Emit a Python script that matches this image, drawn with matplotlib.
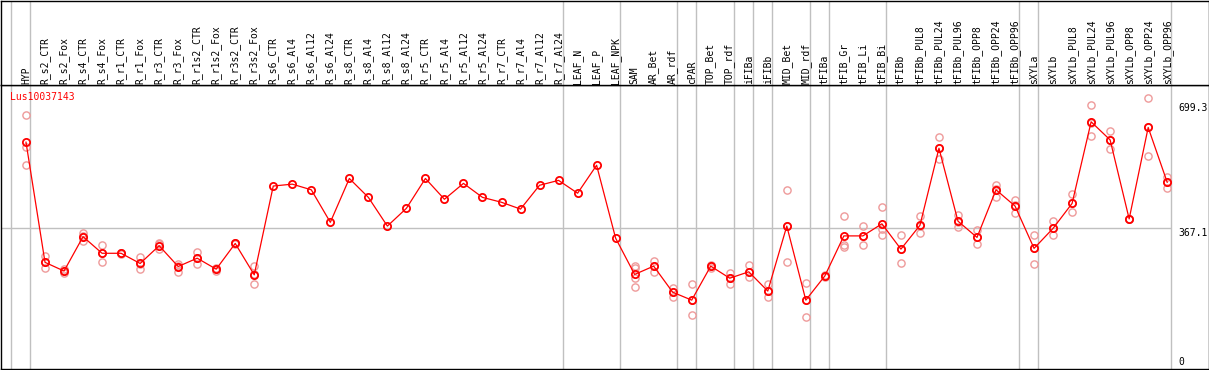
import matplotlib
matplotlib.use("Agg")
import matplotlib.pyplot as plt

title = "Lus10037143"
categories = ["HYP", "R_s2_CTR", "R_s2_Fox", "R_s4_CTR", "R_s4_Fox", "R_r1_CTR", "R_r1_Fox",
              "R_r3_CTR", "R_r3_Fox", "R_r1s2_CTR", "R_r1s2_Fox", "R_r3s2_CTR", "R_r3s2_Fox",
              "R_s6_CTR", "R_s6_Al4", "R_s6_Al12", "R_s6_Al24", "R_s8_CTR", "R_s8_Al4",
              "R_s8_Al12", "R_s8_Al24", "R_r5_CTR", "R_r5_Al4", "R_r5_Al12", "R_r5_Al24",
              "R_r7_CTR", "R_r7_Al4", "R_r7_Al12", "R_r7_Al24", "LEAF_N", "LEAF_P", "LEAF_NPK",
              "SAM", "AR_Bet", "AR_rdf", "cPAR", "TOP_Bet", "TOP_rdf", "iFIBa", "iFIBb",
              "MID_Bet", "MID_rdf", "tFIBa", "tFIB_Gr", "tFIB_Li", "tFIB_Bi", "tFIBb",
              "tFIBb_PUL8", "tFIBb_PUL24", "tFIBb_PUL96", "tFIBb_OPP8", "tFIBb_OPP24",
              "tFIBb_OPP96", "sXYLa", "sXYLb", "sXYLb_PUL8", "sXYLb_PUL24", "sXYLb_PUL96",
              "sXYLb_OPP8", "sXYLb_OPP24", "sXYLb_OPP96"]
group_sizes = [1, 28, 3, 3, 1, 2, 1, 1, 2, 1, 3, 7, 1, 7]

means = [595, 277, 254, 345, 301, 301, 274, 321, 266, 288, 259, 327, 244,
         479, 484, 469, 383, 499, 449, 373, 420, 499, 444, 486, 449,
         436, 418, 481, 494, 460, 534, 341,
         245, 267, 198, 177, 267, 235, 252, 201, 373, 177, 241,
         347, 347, 379, 312, 375, 579, 386, 343, 469, 426,
         314, 367, 433, 649, 601, 392, 634, 489]

replicates = [[666, 581, 534], [294, 261, 277], [259, 248, 255], [355, 334, 346],
              [322, 279, 301], [301, 300, 302], [292, 259, 273], [327, 312, 325],
              [273, 252, 267], [304, 272, 288], [263, 254, 259], [327, 326, 328],
              [267, 219, 245],
              [], [], [], [], [], [], [], [], [], [], [], [], [], [], [], [], [], [], [],
              [267, 235, 211, 262], [281, 251, 268], [210, 185, 198], [219, 137, 177],
              [270, 262, 268], [250, 219, 236], [270, 237, 252], [219, 185, 200],
              [469, 277, 373], [222, 132, 177], [243, 238, 241],
              [400, 318, 324], [373, 323, 346], [423, 349, 365], [349, 274, 312],
              [400, 354, 372], [608, 550, 579], [402, 371, 385], [363, 325, 343],
              [482, 451, 472], [442, 407, 428],
              [349, 272, 314], [387, 349, 367], [457, 410, 433], [693, 611, 645],
              [624, 576, 602], [392, 391, 393], [711, 559, 634], [504, 473, 489]]

axis_labels = [699.3, 367.1, 0]

W, H = 1209, 370
fig = plt.figure(figsize=(W / 100, H / 100), dpi=100)
fig.patch.set_facecolor("white")

px_left, px_right = 0.5, 1208.5
y_top_plot, y_bot_plot = 85, 369
x0, dx = 26.0, 19.02
y0, sy = 367.0, 0.3778

xlim = ((px_left - x0) / dx, (px_right - x0) / dx)
ylim = ((y0 - y_bot_plot) / sy, (y0 - y_top_plot) / sy)

ax = fig.add_axes([px_left / W, (H - y_bot_plot) / H, (px_right - px_left) / W,
                   (y_bot_plot - y_top_plot) / H])
axl = fig.add_axes([px_left / W, (H - y_top_plot) / H, (px_right - px_left) / W,
                    (y_top_plot - 0.5) / H])

for a in (ax, axl):
    a.set_xlim(*xlim)
    a.set_xticks([])
    a.set_yticks([])
    for s in a.spines.values():
        s.set_color("black")
        s.set_linewidth(1.0)
ax.set_ylim(*ylim)
axl.set_ylim(y_top_plot, 0)

# group separators
bounds = [-1]
c = -1
for g in group_sizes:
    c += g
    bounds.append(c)
off = 4 / dx
for b in bounds:
    ax.axvline(b + off, color="#c0c0c0", lw=1.0, zorder=1)
    axl.axvline(b + off, color="#c0c0c0", lw=1.0, zorder=1)

ax.hlines(axis_labels[1], xlim[0], bounds[-1] + off, color="#c0c0c0", lw=1.0, zorder=1)

mono = "DejaVu Sans Mono"
xs = list(range(len(categories)))
for i, lab in enumerate(categories):
    axl.text(i, 83.5, lab, rotation=90, ha="center", va="bottom", fontsize=7,
             family=mono, color="black")

# replicates
rx, ry = [], []
for i, reps in enumerate(replicates):
    for v in reps:
        rx.append(i)
        ry.append(v)
ax.plot(rx, ry, linestyle="none", marker="o", markersize=5.2, markerfacecolor="none",
        markeredgecolor="#ee9a9a", markeredgewidth=1.0, zorder=2)

ax.plot(xs, means, color="red", lw=0.9, marker="o", markersize=5.2,
        markerfacecolor="none", markeredgecolor="red", markeredgewidth=1.3, zorder=3)

ax.text((10 - x0) / dx, (y0 - 97) / sy, title, color="red", fontsize=7, family=mono,
        ha="left", va="center")

lab_x = (1178 - x0) / dx
ax.text(lab_x, axis_labels[0], f"{axis_labels[0]:.1f}", fontsize=7, family=mono,
        ha="left", va="top")
ax.text(lab_x, axis_labels[1], f"{axis_labels[1]:.1f}", fontsize=7, family=mono,
        ha="left", va="top")
ax.text(lab_x, axis_labels[2], f"{axis_labels[2]:.0f}", fontsize=7, family=mono,
        ha="left", va="bottom")

fig.savefig("out.png", dpi=100, facecolor="white")
